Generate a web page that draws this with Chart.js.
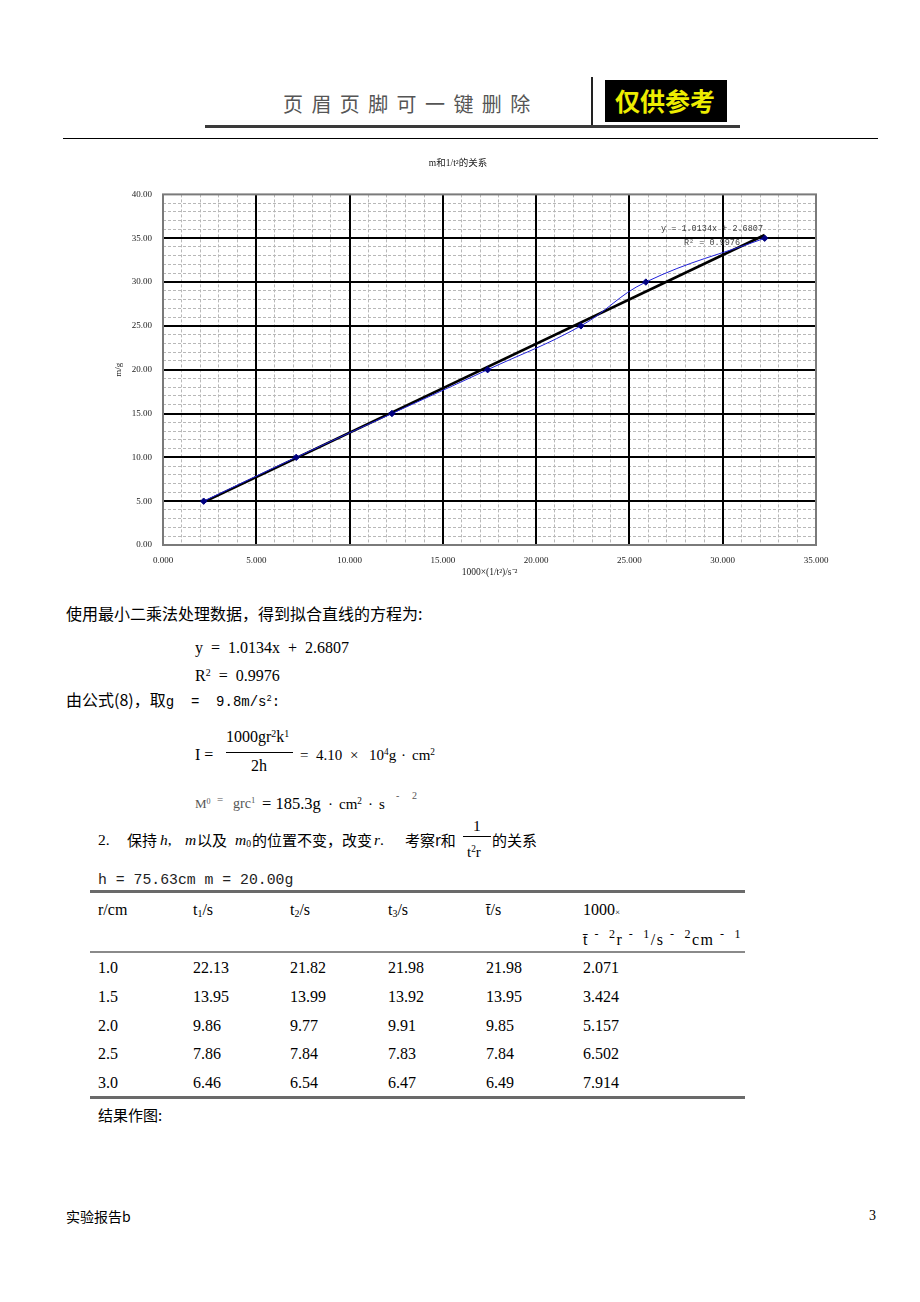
<!DOCTYPE html>
<html>
<head>
<meta charset="utf-8">
<script src="https://cdn.jsdelivr.net/npm/chart.js@4.4.1/dist/chart.umd.min.js"></script>
<style>
html, body { margin: 0; padding: 0; background: #fff; }
body { width: 920px; height: 1302px; position: relative; overflow: hidden;
       font-family: "Liberation Serif", "Noto Sans CJK SC", serif; color: #000; }
.a { position: absolute; white-space: nowrap; line-height: 1; }
.cjk { font-family: "Noto Sans CJK SC", sans-serif; }
.mono { font-family: "Liberation Mono", "Noto Sans CJK SC", monospace; }
.ln { position: absolute; }
sup { font-size: 0.62em; vertical-align: 0.55em; line-height: 0; }
sub { font-size: 0.62em; vertical-align: -0.25em; line-height: 0; }
.g { color: #555; }
#chartBox { position: absolute; left: 100px; top: 150px; width: 740px; height: 435px; }
</style>
</head>
<body>

<!-- header -->
<div class="a cjk" style="left:283px;top:94px;font-size:20px;letter-spacing:8.4px;color:#555;">页眉页脚可一键删除</div>
<div class="ln" style="left:591px;top:77px;width:2px;height:51px;background:#222;"></div>
<div class="ln" style="left:605px;top:80px;width:122px;height:42px;background:#000;"></div>
<div class="a cjk" style="left:615px;top:88px;font-size:25px;font-weight:bold;color:#eded00;">仅供参考</div>
<div class="ln" style="left:205px;top:125px;width:535px;height:3px;background:#3a3a3a;"></div>
<div class="ln" style="left:63px;top:138px;width:815px;height:1px;background:#000;"></div>

<div id="chartBox"><canvas id="chart" width="740" height="435"></canvas></div>

<!-- text under the chart -->
<div class="a cjk" style="left:66px;top:605px;font-size:16px;">使用最小二乘法处理数据，得到拟合直线的方程为:</div>
<div class="a" style="left:195px;top:640px;font-size:16px;">y &nbsp;= &nbsp;1.0134x &nbsp;+ &nbsp;2.6807</div>
<div class="a" style="left:195px;top:668px;font-size:16px;">R<sup>2</sup> &nbsp;= &nbsp;0.9976</div>
<div class="a cjk" style="left:66px;top:691px;font-size:16px;">由公式(8)，取<span class="mono" style="font-size:14px;">g &nbsp;= &nbsp;9.8m/s<sup>2</sup>:</span></div>

<div class="a" style="left:195px;top:747px;font-size:16px;">I =</div>
<div class="a" style="left:226px;top:729px;font-size:16px;">1000gr<sup>2</sup>k<sup>1</sup></div>
<div class="ln" style="left:226px;top:752px;width:67px;height:1px;background:#000;"></div>
<div class="a" style="left:251px;top:758px;font-size:16px;">2h</div>
<div class="a" style="left:300px;top:748px;font-size:15px;">=</div>
<div class="a" style="left:316px;top:748px;font-size:15px;">4.10</div>
<div class="a" style="left:350px;top:748px;font-size:15px;">×</div>
<div class="a" style="left:369px;top:748px;font-size:15px;">10<sup>4</sup>g</div>
<div class="a" style="left:401px;top:748px;font-size:15px;">·</div>
<div class="a" style="left:412px;top:748px;font-size:15px;">cm<sup>2</sup></div>

<div class="a g" style="left:195px;top:797px;font-size:13px;">M<sup>0</sup></div>
<div class="a g" style="left:217px;top:794px;font-size:11px;">=</div>
<div class="a g" style="left:233px;top:797px;font-size:14px;">grc<sup>1</sup></div>
<div class="a" style="left:262px;top:796px;font-size:16.5px;">= 185.3g</div>
<div class="a" style="left:328px;top:797px;font-size:15px;">·</div>
<div class="a" style="left:339px;top:797px;font-size:15px;">cm<sup>2</sup></div>
<div class="a" style="left:368px;top:797px;font-size:15px;">·</div>
<div class="a" style="left:379px;top:797px;font-size:15px;">s</div>
<div class="a g" style="left:396px;top:791px;font-size:10px;">-</div>
<div class="a g" style="left:412px;top:791px;font-size:10px;">2</div>

<div class="a" style="left:98px;top:832px;font-size:15.5px;">2.</div>
<div class="a cjk" style="left:127px;top:832px;font-size:15px;">保持</div>
<div class="a" style="left:160px;top:832px;font-size:15.5px;"><i>h</i>,</div>
<div class="a" style="left:185px;top:832px;font-size:15.5px;"><i>m</i></div>
<div class="a cjk" style="left:197px;top:832px;font-size:15px;">以及</div>
<div class="a" style="left:235px;top:832px;font-size:15.5px;"><i>m</i><sub>0</sub></div>
<div class="a cjk" style="left:252px;top:832px;font-size:15px;">的位置不变，改变</div>
<div class="a" style="left:374px;top:832px;font-size:15.5px;"><i>r</i>.</div>
<div class="a cjk" style="left:405px;top:832px;font-size:15px;">考察r和</div>
<div class="a" style="left:473px;top:818px;font-size:15.5px;">1</div>
<div class="ln" style="left:463px;top:836px;width:28px;height:1px;background:#000;"></div>
<div class="a" style="left:467px;top:845px;font-size:15px;">t<sup>2</sup>r</div>
<div class="a cjk" style="left:492px;top:832px;font-size:15px;">的关系</div>

<div class="a mono" style="left:98px;top:873px;font-size:14.8px;color:#222;">h = 75.63cm m = 20.00g</div>

<div class="ln" style="left:90px;top:890px;width:655px;height:3px;background:#6a6a6a;"></div>
<div class="ln" style="left:90px;top:951px;width:655px;height:2px;background:#8a8a8a;"></div>
<div class="ln" style="left:90px;top:1096px;width:655px;height:3px;background:#6a6a6a;"></div>
<div id="table"></div>

<div class="a cjk" style="left:98px;top:1107px;font-size:15px;">结果作图:</div>

<!-- footer -->
<div class="a cjk" style="left:66px;top:1209px;font-size:14px;">实验报告b</div>
<div class="a" style="left:869px;top:1209px;font-size:14px;">3</div>

<script>
// m versus 1000/t^2
const invT2 = [2.18, 7.14, 12.27, 17.40, 22.40, 25.88, 32.25];
const massG = [5, 10, 15, 20, 25, 30, 35];

// least-squares fit shown on the chart
const fitSlope = 1.0134;
const fitIntercept = 2.6807;
const fitR2 = 0.9976;
const trendX = [2.18, 32.25];

const xTickLabels = ['0.000', '5.000', '10.000', '15.000', '20.000', '25.000', '30.000', '35.000'];
const yTickLabels = ['0.00', '5.00', '10.00', '15.00', '20.00', '25.00', '30.00', '35.00', '40.00'];

// second table (text only)
const tableHead = ['r/cm', 't<sub>1</sub>/s', 't<sub>2</sub>/s', 't<sub>3</sub>/s', 't̄/s', '1000<span style="font-size:9px">×</span>'];
const tableRows = [
    ['1.0', '22.13', '21.82', '21.98', '21.98', '2.071'],
    ['1.5', '13.95', '13.99', '13.92', '13.95', '3.424'],
    ['2.0', '9.86', '9.77', '9.91', '9.85', '5.157'],
    ['2.5', '7.86', '7.84', '7.83', '7.84', '6.502'],
    ['3.0', '6.46', '6.54', '6.47', '6.49', '7.914']
];
const colX = [98, 193, 290, 388, 486, 583];
const rowY = [968, 997, 1026, 1054, 1083];

function buildTable() {
    let html = '';
    tableHead.forEach((h, i) => {
        html += `<div class="a" style="left:${colX[i]}px;top:902px;font-size:16px;">${h}</div>`;
    });
    html += `<div class="a" style="left:583px;top:932px;font-size:16px;letter-spacing:1.5px;">t̄&nbsp;<sup style="font-size:12px">-&nbsp;&nbsp;2</sup>r&nbsp;<sup style="font-size:12px">-&nbsp;&nbsp;1</sup>/s&nbsp;<sup style="font-size:12px">-&nbsp;&nbsp;2</sup>cm&nbsp;<sup style="font-size:12px">-&nbsp;&nbsp;1</sup></div>`;
    tableRows.forEach((row, r) => {
        row.forEach((v, i) => {
            html += `<div class="a" style="left:${colX[i]}px;top:${rowY[r] - 8}px;font-size:16px;">${v}</div>`;
        });
    });
    document.getElementById('table').innerHTML = html;
}
buildTable();

const fitLabels = {
    id: 'fitLabels',
    beforeDatasetsDraw(chart) {
        const { ctx, chartArea: a } = chart;
        ctx.save();
        // plot frame
        ctx.strokeStyle = '#7a7a7a';
        ctx.lineWidth = 2;
        ctx.strokeRect(a.left, a.top, a.right - a.left, a.bottom - a.top);
        // equation text
        ctx.fillStyle = '#444';
        ctx.font = '8.5px "Liberation Mono"';
        ctx.textAlign = 'center';
        ctx.textBaseline = 'middle';
        ctx.fillText('y = ' + fitSlope + 'x + ' + fitIntercept, a.right - 104, a.top + 34);
        ctx.fillText('R² = ' + fitR2, a.right - 104, a.top + 48);
        ctx.restore();
    }
};

const chartFont = '"Liberation Serif", "Noto Sans CJK SC"';
const tickFont = { family: chartFont, size: 9 };

new Chart(document.getElementById('chart'), {
    type: 'scatter',
    data: {
        datasets: [{
            label: 'm',
            data: invT2.map((x, i) => ({ x: x, y: massG[i] })),
            showLine: true,
            tension: 0.4,
            borderColor: '#2020d8',
            borderWidth: 1,
            pointStyle: 'rectRot',
            pointRadius: 3.2,
            pointBackgroundColor: '#000080',
            pointBorderColor: '#000080',
            pointBorderWidth: 1
        }, {
            label: 'fit',
            data: trendX.map(x => ({ x: x, y: fitSlope * x + fitIntercept })),
            showLine: true,
            borderColor: '#000',
            borderWidth: 2.6,
            pointRadius: 0
        }]
    },
    options: {
        responsive: false,
        animation: false,
        events: [],
        layout: { padding: { top: 0, right: 24, left: 0, bottom: 0 } },
        plugins: {
            legend: { display: false },
            tooltip: { enabled: false },
            title: {
                display: true,
                text: 'm和1/t²的关系',
                color: '#222',
                font: { family: chartFont, size: 9.5, weight: 'normal' },
                padding: { top: 8, bottom: 25 }
            }
        },
        scales: {
            xMinor: {
                axis: 'x', type: 'linear', position: 'bottom', min: 0, max: 35,
                afterFit: s => { s.height = 0; },
                ticks: { display: false, stepSize: 1, autoSkip: false },
                grid: { color: '#b8b8b8', lineWidth: 1, drawTicks: false, z: -1 },
                border: { display: false, dash: [3, 2] }
            },
            yMinor: {
                axis: 'y', type: 'linear', position: 'left', min: 0, max: 40,
                afterFit: s => { s.width = 0; },
                ticks: { display: false, stepSize: 1, autoSkip: false },
                grid: { color: '#b8b8b8', lineWidth: 1, drawTicks: false, z: -1 },
                border: { display: false, dash: [3, 2] }
            },
            x: {
                type: 'linear', position: 'bottom', min: 0, max: 35,
                afterFit: s => { s.height = 40; },
                ticks: {
                    stepSize: 5, autoSkip: false, maxRotation: 0, padding: 10,
                    color: '#222', font: tickFont,
                    callback: v => xTickLabels[Math.round(v / 5)]
                },
                grid: {
                    drawTicks: false, lineWidth: 2,
                    color: c => (c.tick && (c.tick.value === 0 || c.tick.value === 35)) ? 'rgba(0,0,0,0)' : '#000'
                },
                border: { display: false },
                title: {
                    display: true, text: '1000×(1/t²)/s⁻²', color: '#222',
                    font: { family: chartFont, size: 9.5 },
                    padding: { top: 0, bottom: 7 }
                }
            },
            y: {
                type: 'linear', position: 'left', min: 0, max: 40,
                afterFit: s => { s.width = 63; },
                ticks: {
                    stepSize: 5, autoSkip: false, padding: 11,
                    color: '#222', font: tickFont,
                    callback: v => yTickLabels[Math.round(v / 5)]
                },
                grid: {
                    drawTicks: false, lineWidth: 2,
                    color: c => (c.tick && (c.tick.value === 0 || c.tick.value === 40)) ? 'rgba(0,0,0,0)' : '#000'
                },
                border: { display: false },
                title: {
                    display: true, text: 'm/g', color: '#222',
                    font: { family: chartFont, size: 9 },
                    padding: { top: 13, bottom: 0 }
                }
            }
        }
    },
    plugins: [fitLabels]
});
</script>
</body>
</html>
